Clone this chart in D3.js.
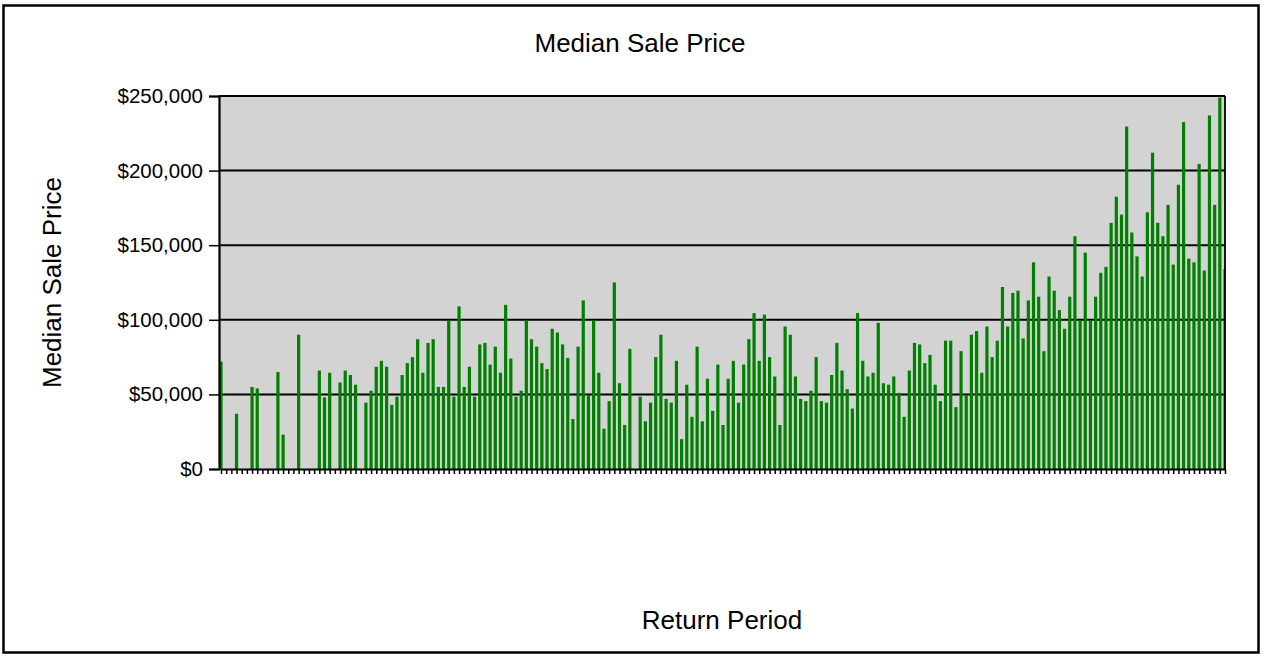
<!DOCTYPE html>
<html>
<head>
    <meta charset='utf-8'/>
    <title>Median Sale Price</title>
    <script src="https://d3js.org/d3.v7.min.js"></script>
    <style>
        body {
            margin: 0;
            background: #ffffff;
            font-family: "Liberation Sans", Arial, Helvetica, sans-serif;
        }
        svg text {
            fill: #000000;
        }
    </style>
</head>
<body>
<div id="chart"></div>

<script>

    // median sale price per return period (one slot per period, null = no sales)
    var prices = [
        72000, null, null, 37000, null, null, 55000, 54000, null, null,
        null, 65000, 23000, null, null, 90000, null, null, null, 66000,
        48000, 64500, null, 58000, 66000, 63000, 56500, null, 44500, 52500,
        68500, 72500, 68500, 43000, 48500, 63000, 71000, 75000, 87000, 64500,
        84500, 87000, 55000, 55000, 99500, 48500, 109000, 55000, 68500, 48500,
        83500, 84500, 70000, 82000, 64500, 110000, 74000, 48500, 52500, 99500,
        87000, 82000, 71000, 67000, 94000, 91500, 83500, 74500, 33500, 82000,
        113000, 49500, 99500, 64500, 27000, 45500, 125000, 57500, 29500, 80500,
        null, 48500, 32000, 44500, 75000, 90000, 47000, 44500, 72500, 20000,
        56500, 35000, 82000, 32000, 60500, 39000, 70000, 29500, 60500, 72500,
        44500, 70000, 87000, 104500, 72500, 103500, 75000, 62000, 29500, 95500,
        90000, 62000, 47000, 45500, 52500, 75000, 45500, 44500, 63000, 84500,
        66000, 53500, 40500, 104500, 72500, 62000, 64500, 98000, 57500, 56500,
        62000, 51000, 35000, 66000, 84500, 83500, 71000, 76500, 56500, 45500,
        86000, 86000, 41500, 79000, 49500, 90000, 92500, 64500, 95500, 75000,
        86000, 122000, 95500, 118000, 119500, 87500, 113000, 138500, 115500, 79000,
        129000, 119500, 106500, 94000, 115500, 156000, 99500, 145000, 99500, 115500,
        131500, 135500, 165000, 182500, 170500, 229500, 158500, 142500, 129000, 172000,
        212000, 165000, 156000, 177000, 137000, 190500, 232500, 141000, 138500, 204500,
        133000, 237000, 177000, 249000, 134000
    ];
    var periods = d3.range(prices.length);
    var yTicks = [0, 50000, 100000, 150000, 200000, 250000];

    var width = 1264,
        height = 657,
        margin = {top: 96, right: 39, bottom: 188, left: 219};
    var plotW = width - margin.left - margin.right,
        plotH = height - margin.top - margin.bottom;

    var svg = d3.select("#chart").append("svg")
        .attr("width", width)
        .attr("height", height);

    // outer frame
    svg.append("rect")
        .attr("x", 3.5).attr("y", 5.5)
        .attr("width", 1255).attr("height", 647)
        .attr("fill", "#ffffff")
        .attr("stroke", "#000000")
        .attr("stroke-width", 2.5);

    var x = d3.scalePoint().domain(periods).range([2, plotW]);
    var y = d3.scaleLinear().domain([0, 250000]).range([plotH, 0]);

    var g = svg.append("g")
        .attr("transform", "translate(" + margin.left + "," + margin.top + ")");

    g.append("defs").append("clipPath")
        .attr("id", "clip")
      .append("rect")
        .attr("width", plotW)
        .attr("height", plotH);

    g.append("rect")
        .attr("width", plotW)
        .attr("height", plotH)
        .attr("fill", "#d3d3d3");

    // gridlines
    g.append("g").selectAll("line")
        .data(yTicks.slice(1))
      .enter().append("line")
        .attr("x1", 0).attr("x2", plotW)
        .attr("y1", function(d) { return y(d); })
        .attr("y2", function(d) { return y(d); })
        .attr("stroke", "#000000")
        .attr("stroke-width", 2);

    var barW = 3.2;
    g.append("g")
        .attr("clip-path", "url(#clip)")
      .selectAll("rect")
        .data(periods.filter(function(i) { return prices[i] != null; }))
      .enter().append("rect")
        .attr("x", function(i) { return x(i) - barW / 2; })
        .attr("y", function(i) { return y(prices[i]); })
        .attr("width", barW)
        .attr("height", function(i) { return plotH - y(prices[i]); })
        .attr("fill", "#008000");

    // right edge of the plot
    g.append("line")
        .attr("x1", plotW).attr("x2", plotW)
        .attr("y1", 0).attr("y2", plotH)
        .attr("stroke", "#000000")
        .attr("stroke-width", 1.8);

    var yAxis = g.append("g")
        .call(d3.axisLeft(y)
            .tickValues(yTicks)
            .tickSize(10)
            .tickPadding(6)
            .tickFormat(function(d) { return "$" + d3.format(",")(d); }));
    yAxis.select(".domain").attr("stroke", "#000000").attr("stroke-width", 2.2);
    yAxis.selectAll(".tick line").attr("stroke", "#000000").attr("stroke-width", 1.5);
    yAxis.selectAll("text")
        .style("font-size", "20.5px")
        .style("font-family", "'Liberation Sans', Arial, sans-serif");

    var xAxis = g.append("g")
        .attr("transform", "translate(0," + plotH + ")")
        .call(d3.axisBottom(x).tickSize(5).tickSizeOuter(0).tickFormat(""));
    xAxis.select(".domain").attr("stroke", "#000000").attr("stroke-width", 2);
    xAxis.selectAll(".tick line").attr("stroke", "#000000").attr("stroke-width", 1.5);

    svg.append("text")
        .attr("x", 640).attr("y", 52)
        .attr("text-anchor", "middle")
        .style("font-size", "26px")
        .text("Median Sale Price");

    svg.append("text")
        .attr("transform", "translate(61," + (margin.top + plotH / 2) + ") rotate(-90)")
        .attr("text-anchor", "middle")
        .style("font-size", "26px")
        .text("Median Sale Price");

    svg.append("text")
        .attr("x", margin.left + plotW / 2).attr("y", 629)
        .attr("text-anchor", "middle")
        .style("font-size", "26px")
        .text("Return Period");

</script>
</body>
</html>
